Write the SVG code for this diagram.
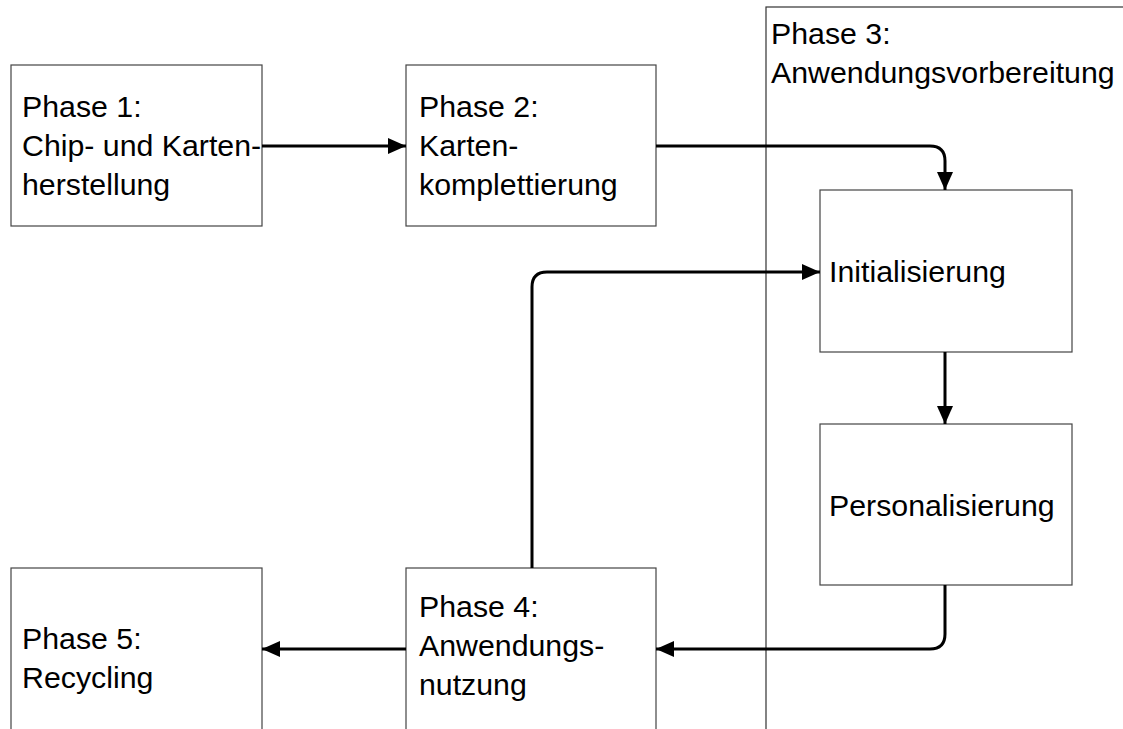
<svg xmlns="http://www.w3.org/2000/svg" width="1123" height="729" viewBox="0 0 1123 729">
<style>
.box{fill:#fff;stroke:#444;stroke-width:1.2}
.lane{fill:none;stroke:#333;stroke-width:1.2}
.t{font-family:"Liberation Sans",Arial,sans-serif;font-size:30.3px;fill:#000}
.c{fill:none;stroke:#000;stroke-width:3;marker-end:url(#ah)}
</style>
<defs>
<marker id="ah" markerUnits="userSpaceOnUse" markerWidth="20" markerHeight="18" refX="18" refY="8" orient="auto">
<path d="M0,0 L18,8 L0,16 z" fill="#000"/>
</marker>
</defs>
<rect width="1123" height="729" fill="#fff"/>
<g id="phase3">
<rect class="lane" x="766" y="7" width="420" height="800"/>
<text class="t" x="771" y="44">Phase 3:</text>
<text class="t" x="771" y="83">Anwendungsvorbereitung</text>
</g>
<g id="phase1">
<rect class="box" x="11" y="65" width="251" height="161"/>
<text class="t" x="22" y="117">Phase 1:</text>
<text class="t" x="22" y="156">Chip- und Karten-</text>
<text class="t" x="22" y="195">herstellung</text>
</g>
<g id="phase2">
<rect class="box" x="406" y="65" width="250" height="161"/>
<text class="t" x="419" y="117">Phase 2:</text>
<text class="t" x="419" y="156">Karten-</text>
<text class="t" x="419" y="195">komplettierung</text>
</g>
<g id="init">
<rect class="box" x="820" y="190" width="252" height="162"/>
<text class="t" x="829" y="282">Initialisierung</text>
</g>
<g id="pers">
<rect class="box" x="820" y="424" width="252" height="161"/>
<text class="t" x="829" y="516">Personalisierung</text>
</g>
<g id="phase4">
<rect class="box" x="406" y="568" width="250" height="180"/>
<text class="t" x="419" y="617">Phase 4:</text>
<text class="t" x="419" y="656">Anwendungs-</text>
<text class="t" x="419" y="695">nutzung</text>
</g>
<g id="phase5">
<rect class="box" x="11" y="568" width="251" height="180"/>
<text class="t" x="22" y="649">Phase 5:</text>
<text class="t" x="22" y="688">Recycling</text>
</g>
<g id="connectors">
<path class="c" d="M262,146 H406"/>
<path class="c" d="M656,146 H930 Q945,146 945,161 V190"/>
<path class="c" d="M945,352 V424"/>
<path class="c" d="M945,585 V634 Q945,649 930,649 H656"/>
<path class="c" d="M406,649 H262"/>
<path class="c" d="M532,568 V287 Q532,272 547,272 H820"/>
</g>
</svg>
